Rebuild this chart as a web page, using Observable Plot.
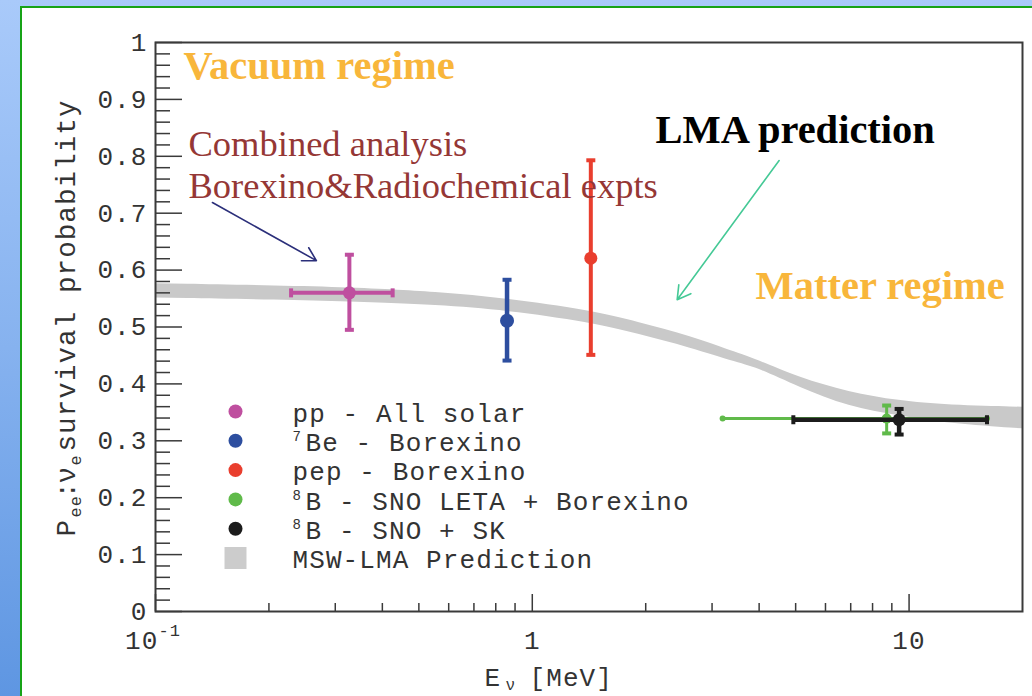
<!DOCTYPE html>
<html>
<head>
<meta charset="utf-8">
<script src="https://cdn.jsdelivr.net/npm/d3@7"></script>
<script src="https://cdn.jsdelivr.net/npm/@observablehq/plot@0.6"></script>
<style>
  html, body { margin: 0; padding: 0; }
  body {
    width: 1032px; height: 696px; position: relative; overflow: hidden;
    background: linear-gradient(180deg, #a9cafa 0%, #86b2ef 50%, #5e96e2 100%);
  }
  #panel {
    position: absolute; left: 20px; top: 6px; width: 1040px; height: 720px;
    background: #fff; border: 2px solid #17a317; box-sizing: border-box;
  }
  #chart { position: absolute; left: 0; top: 0; }
  #chart svg [font-family^="Liberation Mono"] { letter-spacing: 1.1px; }
</style>
</head>
<body>
<div id="panel"></div>
<div id="chart"></div>
<script>
// Electron-neutrino survival probability vs neutrino energy (log scale)

// MSW-LMA prediction band: energy (MeV), upper and lower edge
const bandEnergy = [0.1, 0.327, 0.567, 0.853, 1.43, 1.92, 2.61, 3.54, 4.0, 5.1, 6.93, 9.4, 12.7, 20];
const bandHigh   = [0.576, 0.570, 0.561, 0.550, 0.529, 0.508, 0.485, 0.453, 0.441, 0.411, 0.385, 0.370, 0.362, 0.359];
const bandLow    = [0.551, 0.545, 0.538, 0.529, 0.508, 0.487, 0.464, 0.436, 0.427, 0.394, 0.359, 0.344, 0.330, 0.321];

// Measurements
const sources    = ["pp", "7Be", "pep", "8B LETA", "8B SNO+SK"];
const energy     = [0.327, 0.857, 1.43, 8.72, 9.41];
const energyLow  = [0.229, null, null, 3.2, 4.93];
const energyHigh = [0.426, null, null, 16.1, 16.1];
const pee        = [0.560, 0.511, 0.621, 0.339, 0.337];
const peeLow     = [0.495, 0.441, 0.451, 0.313, 0.311];
const peeHigh    = [0.627, 0.583, 0.793, 0.362, 0.356];
const colors     = ["#bf4f9f", "#2d4e9f", "#e93e2e", "#60ba4a", "#1c1c1c"];
const barWidths  = [4, 4.5, 4, 3, 4.5];
const dotRadii   = [6.5, 7, 6.5, 5, 6.5];

// Legend entries
const legendSup    = ["", "7", "", "8", "8", ""];
const legendLabels = ["pp - All solar", "Be - Borexino", "pep - Borexino",
                      "B - SNO LETA + Borexino", "B - SNO + SK", "MSW-LMA Prediction"];
const legendColors = ["#bf4f9f", "#2d4e9f", "#e93e2e", "#60ba4a", "#1c1c1c", "#cccccc"];

// Axis ticks
const yMajorTicks = [0, 0.1, 0.2, 0.3, 0.4, 0.5, 0.6, 0.7, 0.8, 0.9, 1];
const yMinorTicks = d3.range(1, 50).map(i => i / 50).filter(v => Math.round(v * 50) % 5 !== 0);
const xMajorTicks = [0.1, 1, 10];
const xMinorTicks = [0.2, 0.3, 0.4, 0.5, 0.6, 0.7, 0.8, 0.9, 2, 3, 4, 5, 6, 7, 8, 9];
const xTickText   = ["10", "1", "10"];
const xTickSup    = ["-1", "", ""];

// Annotation arrows (energy, probability)
const arrows = [
  {x1: 0.1416, y1: 0.7187, x2: 0.2673, y2: 0.6167, color: "#2b2f7a"},
  {x1: 4.52, y1: 0.7925, x2: 2.424, y2: 0.548, color: "#45c996"}
];

const W = 1032, H = 696, ML = 155, MR = 10, MT = 42, MB = 85;
const innerW = W - ML - MR, innerH = H - MT - MB;
const mono = "Liberation Mono";
const serif = "Liberation Serif";
const ink = "#333";

const band = bandEnergy.map((E, i) => ({E, lo: bandLow[i], hi: bandHigh[i]}));
const points = sources.map((s, i) => ({
  source: s, E: energy[i], Elo: energyLow[i], Ehi: energyHigh[i],
  P: pee[i], Plo: peeLow[i], Phi: peeHigh[i]
}));

// bar end caps
const hCap = {draw(ctx) { ctx.moveTo(-4.5, -2); ctx.lineTo(4.5, -2); ctx.lineTo(4.5, 2); ctx.lineTo(-4.5, 2); ctx.closePath(); }};
const vCap = {draw(ctx) { ctx.moveTo(-2, -4.5); ctx.lineTo(2, -4.5); ctx.lineTo(2, 4.5); ctx.lineTo(-2, 4.5); ctx.closePath(); }};

const marks = [];

// prediction band
marks.push(Plot.areaY(band, {x: "E", y1: "lo", y2: "hi", fill: "#c9c9c9", curve: "basis"}));

// measurements: 8B points first so the others sit on top
for (const i of [3, 4, 0, 1, 2]) {
  const d = [points[i]];
  const c = colors[i], w = barWidths[i];
  if (points[i].Elo != null) {
    marks.push(Plot.ruleY(d, {y: "P", x1: "Elo", x2: "Ehi", stroke: c, strokeWidth: w}));
    if (i === 3) {
      marks.push(Plot.dot(d, {x: "Elo", y: "P", r: 3, fill: c}));
      marks.push(Plot.dot(d, {x: "Ehi", y: "P", r: 3, fill: c}));
    } else {
      marks.push(Plot.dot(d, {x: "Elo", y: "P", symbol: vCap, fill: c}));
      marks.push(Plot.dot(d, {x: "Ehi", y: "P", symbol: vCap, fill: c}));
    }
  }
  marks.push(Plot.ruleX(d, {x: "E", y1: "Plo", y2: "Phi", stroke: c, strokeWidth: w}));
  marks.push(Plot.dot(d, {x: "E", y: "Plo", symbol: hCap, fill: c}));
  marks.push(Plot.dot(d, {x: "E", y: "Phi", symbol: hCap, fill: c}));
  marks.push(Plot.dot(d, {x: "E", y: "P", r: dotRadii[i], fill: c}));
}

// frame and inward ticks
marks.push(Plot.frame({stroke: "#3a3a3a", strokeWidth: 2}));
marks.push(Plot.ruleY(yMinorTicks, {insetRight: innerW - 15, stroke: "#3a3a3a", strokeWidth: 1.5}));
marks.push(Plot.ruleY(yMajorTicks, {insetRight: innerW - 27, stroke: "#3a3a3a", strokeWidth: 1.5}));
marks.push(Plot.ruleX(xMinorTicks, {insetTop: innerH - 8, stroke: "#3a3a3a", strokeWidth: 1.5}));
marks.push(Plot.ruleX(xMajorTicks, {insetTop: innerH - 17, stroke: "#3a3a3a", strokeWidth: 1.5}));

// y tick labels
marks.push(Plot.axisY({
  ticks: yMajorTicks, tickSize: 0, tickPadding: 8, label: null,
  tickFormat: d => String(d), fontSize: 26, fontFamily: mono, fill: ink
}));

// x tick labels
const xLabels = xMajorTicks.map((E, i) => ({E, t: xTickText[i], s: xTickSup[i]}));
marks.push(Plot.text(xLabels.filter(d => !d.s), {
  x: "E", text: "t", frameAnchor: "bottom", dy: 29, lineAnchor: "middle",
  fontSize: 26, fontFamily: mono, fill: ink
}));
marks.push(Plot.text(xLabels.filter(d => d.s), {
  x: "E", text: "t", frameAnchor: "bottom", dy: 29, dx: 3, textAnchor: "end", lineAnchor: "middle",
  fontSize: 26, fontFamily: mono, fill: ink
}));
marks.push(Plot.text(xLabels.filter(d => d.s), {
  x: "E", text: "s", frameAnchor: "bottom", dy: 19, dx: 3, textAnchor: "start", lineAnchor: "middle",
  fontSize: 17, fontFamily: mono, fill: ink
}));

// axis titles, built from pieces to get the subscripts
const xTitle = [
  {t: "E", dx: 329, dy: 74, size: 26},
  {t: "ν", dx: 350, dy: 78, size: 16},
  {t: "[MeV]", dx: 374, dy: 74, size: 26}
];
for (const p of xTitle) {
  marks.push(Plot.text([p.t], {
    text: d => d, frameAnchor: "bottom-left", dx: p.dx, dy: p.dy, textAnchor: "start",
    lineAnchor: "bottom", fontSize: p.size, fontFamily: mono, fill: ink
  }));
}
const yTitle = [
  {t: "P", at: 536, off: 0, size: 27.5},
  {t: "ee", at: 517, off: 6, size: 17},
  {t: ":", at: 498, off: 0, size: 27.5},
  {t: "ν", at: 483, off: 0, size: 27.5},
  {t: "e", at: 465, off: 6, size: 17},
  {t: "survival probability", at: 451, off: 0, size: 27.5}
];
for (const p of yTitle) {
  marks.push(Plot.text([p.t], {
    text: d => d, frameAnchor: "top-left", dx: 74 + p.off - ML, dy: p.at - MT, rotate: -90,
    textAnchor: "start", lineAnchor: "bottom", fontSize: p.size, fontFamily: mono, fill: ink
  }));
}

// legend
legendLabels.forEach((label, i) => {
  const dy = 369 + i * 29.3;
  if (i < 5) {
    marks.push(Plot.dot([label], {frameAnchor: "top-left", dx: 80, dy, r: 7, fill: legendColors[i]}));
  } else {
    marks.push(Plot.dot([label], {frameAnchor: "top-left", dx: 80, dy, r: 12.4, symbol: "square", fill: legendColors[i]}));
  }
  if (legendSup[i]) {
    marks.push(Plot.text([legendSup[i]], {
      text: d => d, frameAnchor: "top-left", dx: 137, dy: dy - 4, textAnchor: "start", lineAnchor: "middle",
      fontSize: 14, fontFamily: mono, fill: ink
    }));
  }
  marks.push(Plot.text([label], {
    text: d => d, frameAnchor: "top-left", dx: legendSup[i] ? 150 : 137, dy: dy + 2,
    textAnchor: "start", lineAnchor: "middle", fontSize: 26, fontFamily: mono, fill: ink
  }));
});

// annotations
const notes = [
  {t: "Vacuum regime", dx: 28, dy: 36, size: 40.5, weight: "bold", color: "#f8b63b"},
  {t: "Combined analysis", dx: 33, dy: 113, size: 36.5, weight: "normal", color: "#953735"},
  {t: "Borexino&Radiochemical expts", dx: 33, dy: 155, size: 36.5, weight: "normal", color: "#953735"},
  {t: "LMA prediction", dx: 500, dy: 100, size: 40.5, weight: "bold", color: "#000000"},
  {t: "Matter regime", dx: 600, dy: 256, size: 40.5, weight: "bold", color: "#f8b63b"}
];
for (const n of notes) {
  marks.push(Plot.text([n.t], {
    text: d => d, frameAnchor: "top-left", dx: n.dx, dy: n.dy, textAnchor: "start", lineAnchor: "bottom",
    fontSize: n.size, fontFamily: serif, fontWeight: n.weight, fill: n.color
  }));
}
marks.push(Plot.arrow(arrows, {
  x1: "x1", y1: "y1", x2: "x2", y2: "y2", stroke: d => d.color, strokeWidth: 1.6, headLength: 14
}));

const chart = Plot.plot({
  width: W, height: H,
  marginLeft: ML, marginRight: MR, marginTop: MT, marginBottom: MB,
  x: {type: "log", domain: [0.1, 20], axis: null},
  y: {domain: [0, 1]},
  color: {type: "identity"},
  style: {background: "transparent", overflow: "visible"},
  marks
});
document.getElementById("chart").append(chart);
</script>
</body>
</html>
